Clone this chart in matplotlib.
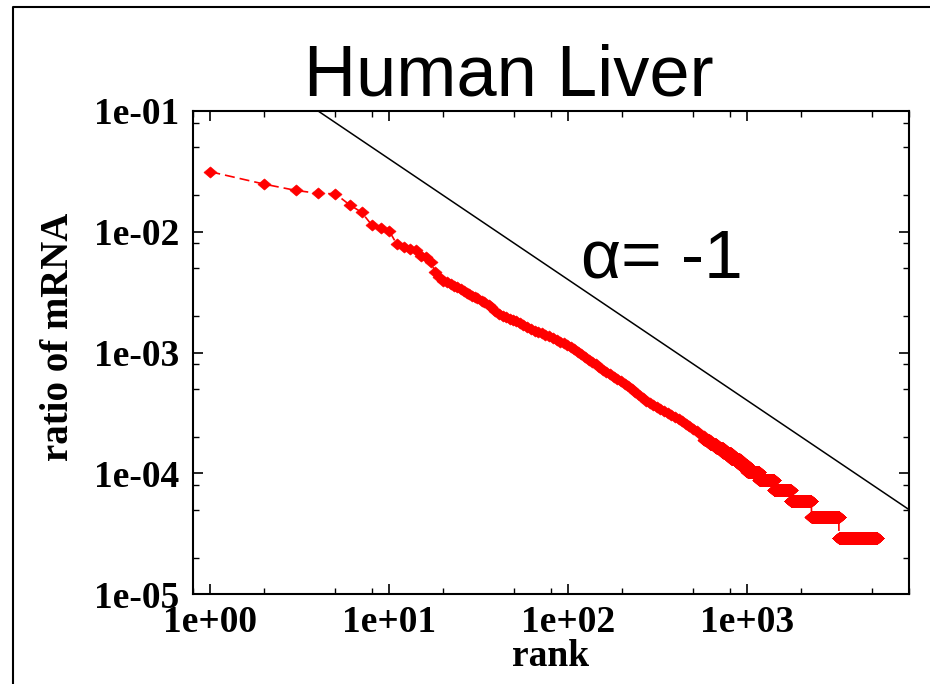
import numpy as np
import matplotlib
matplotlib.use("Agg")
import matplotlib.pyplot as plt
from matplotlib.lines import Line2D
from matplotlib.ticker import LogLocator, FuncFormatter, NullFormatter

# ranks 1-20
head_rank = list(range(1, 21))
head_ratio = [0.0314, 0.0248, 0.0220, 0.0208, 0.0206, 0.0167, 0.0145, 0.0113,
              0.0108, 0.0101, 0.0079, 0.0075, 0.00716, 0.00706, 0.0063, 0.0062,
              0.00565, 0.00467, 0.00424, 0.0039]

# dense part of the curve, read along the band
mid_rank = [21, 22, 23, 24, 25, 26, 27, 28, 29, 30, 31, 33, 34, 36, 37, 39,
            41, 43, 45, 47, 49, 51, 54, 56, 59, 62, 65, 68, 71, 74, 78, 82,
            86, 90, 94, 98, 103, 108, 113, 118, 124, 130, 136, 142, 149, 156,
            163, 171, 179, 188, 197, 206, 216, 226, 237, 248, 260, 272, 285,
            298, 312, 327, 343, 359, 376, 394, 413, 432, 453, 474, 497, 520,
            545, 571]
mid_ratio = [0.00381, 0.00372, 0.00358, 0.00346, 0.00334, 0.00323, 0.00313,
             0.00303, 0.00294, 0.00287, 0.00281, 0.00268, 0.00262, 0.00247,
             0.00237, 0.00219, 0.00208, 0.00202, 0.00196, 0.00191, 0.00186,
             0.00181, 0.00175, 0.00170, 0.00164, 0.00158, 0.00152, 0.00147,
             0.00144, 0.00140, 0.00136, 0.00132, 0.00127, 0.00123, 0.00119,
             0.00116, 0.00111, 0.00106, 0.00101, 0.000966, 0.000919, 0.000873,
             0.000832, 0.000796, 0.000757, 0.000721, 0.000691, 0.000659,
             0.000631, 0.000608, 0.000585, 0.000553, 0.000524, 0.000495,
             0.000468, 0.000444, 0.000419, 0.000396, 0.000380, 0.000366,
             0.000353, 0.000340, 0.000327, 0.000315, 0.000303, 0.000292,
             0.000281, 0.000270, 0.000256, 0.000244, 0.000233, 0.000222,
             0.000212, 0.000202]

# tail: whole numbers of tags, one plateau per count
tag_unit = 1.46e-5
tail_count = [13, 12, 11, 10, 9, 8, 7, 6, 5, 4, 3, 2]
tail_first_rank = [575, 616, 670, 733, 811, 906, 1000, 1165, 1410, 1750, 2280, 3245]
last_rank = 5300

# alpha = -1 guide line
guide_x = [4, 8000]
guide_y = [0.1, 5e-5]

bounds = tail_first_rank + [last_rank + 1]
tail_rank = np.concatenate([np.arange(bounds[i], bounds[i + 1])
                            for i in range(len(tail_count))])
tail_ratio = np.repeat(np.array(tail_count) * tag_unit, np.diff(bounds))

rank = np.concatenate([head_rank, mid_rank, tail_rank])
ratio = np.concatenate([head_ratio, mid_ratio, tail_ratio])

serif = "Liberation Serif"
sans = "Liberation Sans"

fig = plt.figure(figsize=(9.3, 6.84), dpi=100)
ax = fig.add_axes([193 / 930, 1 - 594 / 684, 716 / 930, 483 / 684])

diamond = [(-1, 0), (0, 0.85), (1, 0), (0, -0.85), (-1, 0)]
ax.plot(rank, ratio, color="red", lw=1.2, dashes=(6, 3),
        marker=diamond, ms=9.5, mec="red", mew=0.4)
ax.plot(guide_x, guide_y, color="black", lw=1.1)

ax.set_xscale("log")
ax.set_yscale("log")
ax.set_xlim(0.8, 8000)
ax.set_ylim(1e-5, 1e-1)

for axis in (ax.xaxis, ax.yaxis):
    axis.set_major_locator(LogLocator(base=10, numticks=10))
    axis.set_minor_locator(LogLocator(base=10, subs=[2, 5, 8], numticks=10))
    axis.set_major_formatter(FuncFormatter(lambda v, _: f"{v:.0e}"))
    axis.set_minor_formatter(NullFormatter())

ax.tick_params(which="both", direction="in", top=True, right=True)
ax.tick_params(which="major", length=7, width=1.2)
ax.tick_params(which="minor", length=4, width=1.0)
ax.tick_params(axis="x", pad=8)
ax.tick_params(axis="y", pad=10)
for lab in ax.get_xticklabels() + ax.get_yticklabels():
    lab.set_fontfamily(serif)
    lab.set_fontweight("bold")
    lab.set_fontsize(27)
for sp in ax.spines.values():
    sp.set_linewidth(1.5)

ax.set_xlabel("rank", fontfamily=serif, fontweight="bold", fontsize=27)
ax.set_ylabel("ratio of mRNA", fontfamily=serif, fontweight="bold", fontsize=28)
ax.xaxis.set_label_coords(0.5, -0.093)
ax.yaxis.set_label_coords(-0.162, 0.532)

fig.text(509 / 930, 1 - 96 / 684, "Human Liver", family=sans, fontsize=52,
         ha="center", va="baseline")
ax.text(118, 0.0042, "α= -1", family=sans, fontsize=50, va="baseline")

# outer frame, only its left and top sides fall inside the picture
fig.add_artist(Line2D([13 / 930, 13 / 930, 1], [0, 1 - 7 / 684, 1 - 7 / 684],
                      transform=fig.transFigure, color="black", lw=1.5))

fig.savefig("out.png", dpi=100)
